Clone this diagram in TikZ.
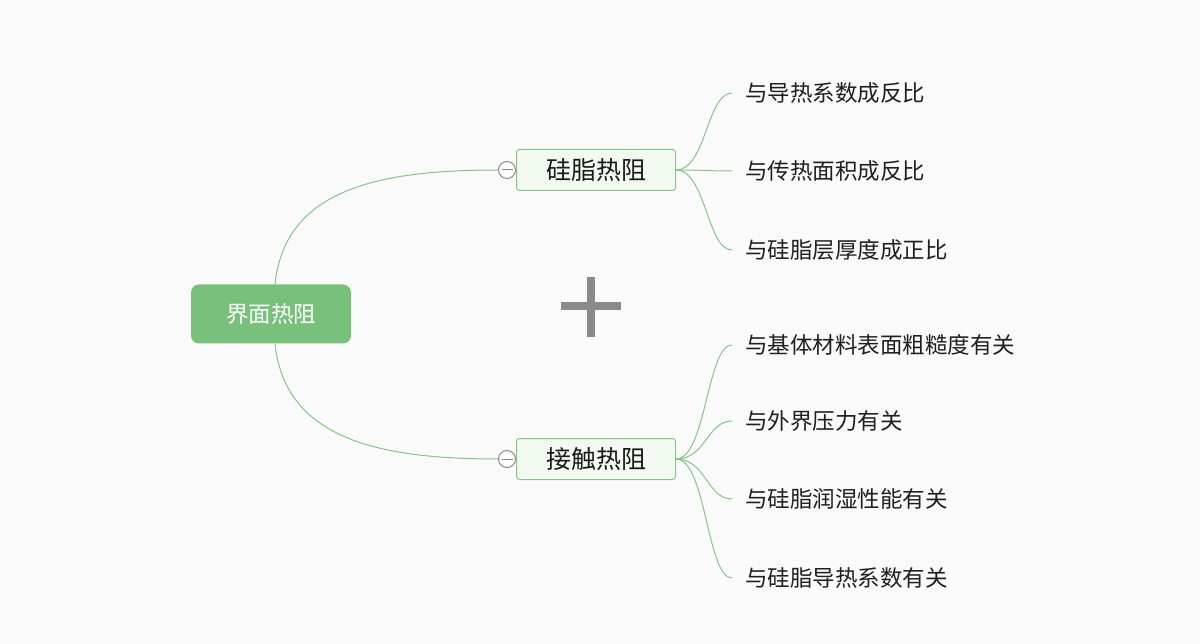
\documentclass[tikz,border=0pt]{standalone}
\usepackage{fontspec}
\setmainfont{Noto Sans CJK SC}
\definecolor{mapgreen}{HTML}{78C07B}
\definecolor{linegreen}{HTML}{86C589}
\definecolor{boxfill}{HTML}{F2F9F1}
\definecolor{foldgray}{HTML}{8A8A8A}
\tikzset{
  rootbox/.style={fill=mapgreen, rounded corners=8pt, minimum width=160pt, minimum height=59pt,
    text=white, font=\fontsize{22.5pt}{26pt}\selectfont},
  topicbox/.style={draw=linegreen, line width=1pt, fill=boxfill, rounded corners=3pt, minimum width=159pt,
    minimum height=41pt, text=black!90, font=\fontsize{25pt}{29pt}\selectfont},
  leaf/.style={anchor=west, inner xsep=13pt, inner ysep=0pt, text=black!88,
    font=\fontsize{22.5pt}{26pt}\selectfont},
  fold/.style={circle, draw=foldgray, line width=1pt, fill=white, minimum size=17pt, inner sep=0pt,
    path picture={\draw[foldgray, line width=1pt] ([xshift=3pt]path picture bounding box.west) -- ([xshift=-3pt]path picture bounding box.east);}},
  link/.style={draw=linegreen, line width=1pt}
}
\begin{document}
\begin{tikzpicture}[x=1pt, y=-1pt]
		% Background
		\fill[black!2] (0,0) rectangle (1200,644);
		\useasboundingbox (0,0) rectangle (1200,644);

		% Root and main topics
		\node[rootbox] (root) at (271,314) {界面热阻};
		\node[topicbox] (silicone) at (596,170) {硅脂热阻};
		\node[topicbox] (contact) at (596,459) {接触热阻};
		\node[fold] (sfold) at (507,170) {};
		\node[fold] (cfold) at (507,459) {};

		% Leaves of silicone
		\node[leaf] (s1) at (732,93) {与导热系数成反比};
		\node[leaf] (s2) at (732,171) {与传热面积成反比};
		\node[leaf] (s3) at (732,250) {与硅脂层厚度成正比};

		% Leaves of contact
		\node[leaf] (c1) at (732,345) {与基体材料表面粗糙度有关};
		\node[leaf] (c2) at (732,421) {与外界压力有关};
		\node[leaf] (c3) at (732,499) {与硅脂润湿性能有关};
		\node[leaf] (c4) at (732,578) {与硅脂导热系数有关};

		% Root to topics
		\draw[link] ([xshift=4pt]root.north) .. controls +(10,-95) and +(-120,0) .. (sfold.west);
		\draw[link] ([xshift=4pt]root.south) .. controls +(10,95) and +(-120,0) .. (cfold.west);
		\draw[link] (sfold) -- (silicone);
		\draw[link] (cfold) -- (contact);

		% Topics to leaves
		\foreach \n in {s1,s2,s3}
			\draw[link] (silicone.east) .. controls +(30,0) and +(-25,0) .. (\n.west);
		\foreach \n in {c1,c2,c3,c4}
			\draw[link] (contact.east) .. controls +(30,0) and +(-25,0) .. (\n.west);

		% Plus sign
		\fill[foldgray] (561,302) rectangle (621,310);
		\fill[foldgray] (587,277) rectangle (595,337);
	\end{tikzpicture}
\end{document}
